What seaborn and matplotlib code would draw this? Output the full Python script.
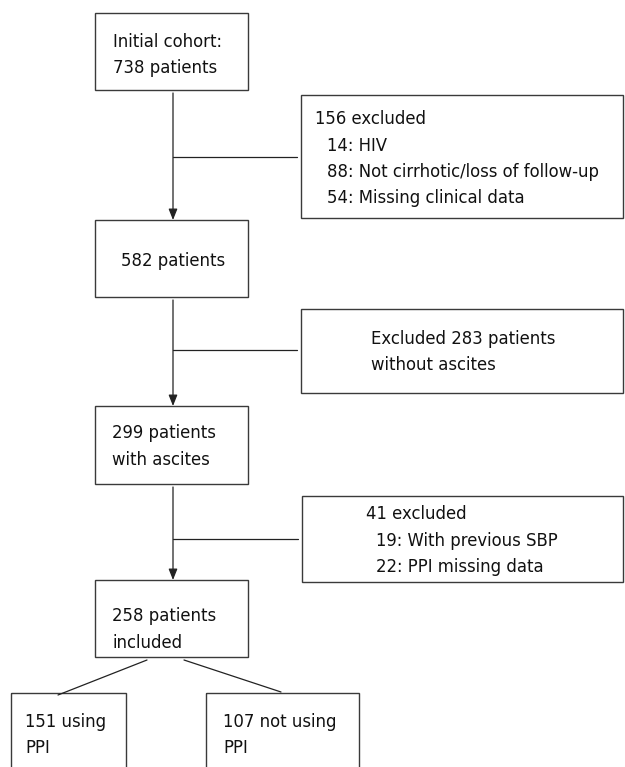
import seaborn as sns
import matplotlib.pyplot as plt
from matplotlib.patches import Rectangle

# flow counts and texts
main_counts = [738, 582, 299, 258]
main_text = [["Initial cohort:", "738 patients"],
             ["582 patients"],
             ["299 patients", "with ascites"],
             ["258 patients", "included"]]
excl_text = [["156 excluded", "14: HIV", "88: Not cirrhotic/loss of follow-up",
              "54: Missing clinical data"],
             ["Excluded 283 patients", "without ascites"],
             ["41 excluded", "19: With previous SBP", "22: PPI missing data"]]
split_text = [["151 using", "PPI"], ["107 not using", "PPI"]]

# layout in pixel space (x0, y0, x1, y1)
main_box = [(95, 13, 248, 90), (95, 220, 248, 297), (95, 406, 248, 484), (95, 580, 248, 657)]
main_txt = [(113, [47, 73]), (121, [266]), (112, [438, 465]), (112, [621, 648])]
excl_box = [(301, 95, 623, 218), (301, 309, 623, 393), (302, 496, 623, 582)]
excl_txt = [([315, 327, 327, 327], [124, 151, 177, 203]),
            ([371, 371], [344, 370]),
            ([366, 376, 376], [519, 546, 572])]
branch_y = [157, 350, 539]
split_box = [(11, 693, 126, 775), (206, 693, 359, 775)]
split_txt = [(25, [727, 753]), (223, [727, 753])]
split_lines = [((147, 660), (58, 695)), ((184, 660), (281, 692))]
xc = 173

sns.set_theme(style="white")
plt.rcParams['font.family'] = ['DejaVu Sans']
fs = 11.9
edge = '#3a3a3a'

fig = plt.figure(figsize=(6.25, 7.67), dpi=100)
ax = fig.add_axes([0, 0, 1, 1])
ax.set_xlim(0, 625)
ax.set_ylim(767, 0)
ax.axis('off')


def box(b, lw=1.0):
    x0, y0, x1, y1 = b
    ax.add_patch(Rectangle((x0, y0), x1 - x0, y1 - y0, fill=False, ec=edge, lw=lw))


for b, (tx, tys), lines in zip(main_box, main_txt, main_text):
    box(b)
    for ty, s in zip(tys, lines):
        ax.text(tx, ty, s, fontsize=fs, va='baseline', ha='left', color='#111111')

for b, (txs, tys), lines in zip(excl_box, excl_txt, excl_text):
    box(b)
    for tx, ty, s in zip(txs, tys, lines):
        ax.text(tx, ty, s, fontsize=fs, va='baseline', ha='left', color='#111111')

# vertical arrows between main boxes with side branches
for i in range(3):
    top = main_box[i][3] + 3
    bot = main_box[i + 1][1]
    ax.annotate("", xy=(xc, bot), xytext=(xc, top),
                arrowprops=dict(arrowstyle="-|>,head_length=0.55,head_width=0.22",
                                color='#222222', lw=0.9, shrinkA=0, shrinkB=0))
    ax.plot([xc, excl_box[i][0] - 4], [branch_y[i], branch_y[i]], color='#222222', lw=0.9)

for b, (tx, tys), lines in zip(split_box, split_txt, split_text):
    box(b)
    for ty, s in zip(tys, lines):
        ax.text(tx, ty, s, fontsize=fs, va='baseline', ha='left', color='#111111')

for (p0, p1) in split_lines:
    ax.plot([p0[0], p1[0]], [p0[1], p1[1]], color='#222222', lw=0.9)

fig.savefig("out.png", dpi=100, facecolor='white')
